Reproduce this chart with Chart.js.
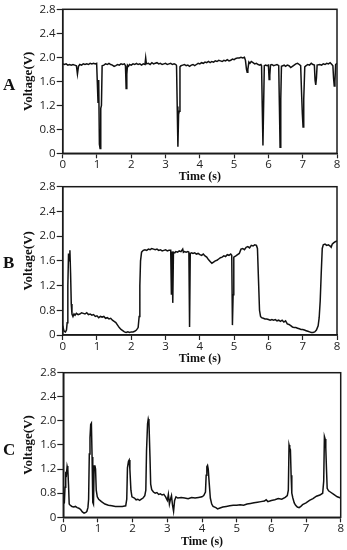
<!DOCTYPE html>
<html>
<head>
<meta charset="utf-8">
<script src="https://cdn.jsdelivr.net/npm/chart.js@4.4.1/dist/chart.umd.min.js"></script>
<style>
  html, body { margin: 0; padding: 0; background: #fff; }
  #wrap { position: relative; width: 347px; height: 550px; overflow: hidden; background: #fff; }
  canvas { position: absolute; left: 0; }
  .letter { position: absolute; left: 3px; font: bold 17px "Liberation Serif", "Times New Roman", serif; color: #111; line-height: 1; transform: translateY(-50%); }
</style>
</head>
<body>
<div id="wrap">
  <canvas id="cA" width="347" height="184" style="top:0px"></canvas>
  <canvas id="cB" width="347" height="190" style="top:176px"></canvas>
  <canvas id="cC" width="347" height="188" style="top:362px"></canvas>
  <div class="letter" style="top:84px">A</div>
  <div class="letter" style="top:262px">B</div>
  <div class="letter" style="top:449px">C</div>
</div>
<script>
// ---------------- DATA ----------------
const xTickValues = [0, 1, 2, 3, 4, 5, 6, 7, 8];
const xTickLabels = ['0', '1', '2', '3', '4', '5', '6', '7', '8'];
const yTickValues = [0.4, 0.8, 1.2, 1.6, 2.0, 2.4, 2.8];
const yTickLabels = ['0', '0.8', '1.2', '1.6', '2.0', '2.4', '2.8'];
const xTitle = 'Time (s)';
const yTitle = 'Voltage(V)';

const timeA = [0.00,0.05,0.10,0.15,0.20,0.25,0.30,0.35,0.40,0.43,0.46,0.50,0.55,0.60,0.65,0.70,0.75,0.80,0.85,0.90,0.95,0.99,1.01,1.03,1.05,1.07,1.09,1.11,1.13,1.15,1.20,1.25,1.30,1.35,1.40,1.45,1.50,1.55,1.60,1.65,1.70,1.75,1.80,1.83,1.84,1.85,1.87,1.89,1.92,1.95,2.00,2.05,2.10,2.15,2.20,2.25,2.30,2.35,2.40,2.42,2.44,2.50,2.55,2.60,2.65,2.70,2.75,2.80,2.85,2.90,2.95,3.00,3.05,3.10,3.15,3.20,3.25,3.30,3.32,3.34,3.36,3.38,3.40,3.42,3.45,3.50,3.55,3.60,3.65,3.70,3.75,3.80,3.85,3.90,3.95,4.00,4.05,4.10,4.15,4.20,4.25,4.30,4.35,4.40,4.45,4.50,4.55,4.60,4.65,4.70,4.75,4.80,4.85,4.90,4.95,5.00,5.05,5.10,5.15,5.20,5.25,5.30,5.33,5.36,5.38,5.40,5.43,5.46,5.50,5.55,5.60,5.65,5.70,5.75,5.78,5.80,5.82,5.84,5.86,5.88,5.92,5.96,6.00,6.02,6.04,6.06,6.10,6.15,6.20,6.25,6.30,6.32,6.34,6.36,6.38,6.42,6.46,6.50,6.55,6.60,6.65,6.70,6.75,6.80,6.85,6.90,6.94,6.97,6.99,7.01,7.03,7.06,7.10,7.15,7.20,7.25,7.30,7.34,7.36,7.38,7.40,7.42,7.50,7.55,7.60,7.65,7.70,7.75,7.80,7.85,7.88,7.90,7.92,7.94,7.96,8.00];
const voltA = [1.89,1.88,1.89,1.87,1.88,1.87,1.88,1.87,1.86,1.72,1.85,1.88,1.87,1.89,1.88,1.89,1.88,1.90,1.89,1.90,1.89,1.90,1.58,1.25,1.62,0.55,0.48,1.15,1.20,1.86,1.87,1.89,1.88,1.90,1.88,1.87,1.85,1.86,1.88,1.87,1.89,1.88,1.89,1.86,1.68,1.48,1.72,1.87,1.85,1.88,1.87,1.89,1.88,1.90,1.88,1.89,1.87,1.89,1.88,1.99,1.89,1.90,1.88,1.91,1.89,1.90,1.91,1.89,1.90,1.88,1.89,1.90,1.88,1.89,1.90,1.88,1.89,1.88,1.86,1.18,0.51,1.05,1.10,1.84,1.86,1.87,1.88,1.86,1.87,1.85,1.87,1.88,1.86,1.88,1.90,1.89,1.91,1.90,1.92,1.91,1.93,1.91,1.93,1.92,1.94,1.93,1.95,1.94,1.93,1.95,1.94,1.96,1.94,1.95,1.97,1.96,1.98,1.99,1.99,2.00,1.99,2.00,1.95,1.80,1.75,1.80,1.92,1.90,1.93,1.91,1.89,1.90,1.88,1.87,1.88,1.86,1.18,0.53,1.20,1.86,1.87,1.86,1.87,1.63,1.70,1.87,1.88,1.86,1.87,1.88,1.86,1.20,0.50,1.30,1.85,1.86,1.87,1.85,1.87,1.86,1.83,1.85,1.87,1.89,1.90,1.88,1.86,1.35,1.05,0.84,1.30,1.84,1.86,1.88,1.87,1.90,1.88,1.87,1.62,1.54,1.65,1.87,1.88,1.87,1.89,1.88,1.90,1.89,1.91,1.88,1.86,1.65,1.52,1.60,1.88,1.90];

const timeB = [0.00,0.02,0.04,0.08,0.11,0.13,0.15,0.17,0.19,0.21,0.23,0.25,0.27,0.30,0.33,0.36,0.40,0.45,0.50,0.55,0.60,0.65,0.70,0.75,0.80,0.85,0.90,0.95,1.00,1.05,1.10,1.15,1.20,1.25,1.30,1.35,1.40,1.45,1.50,1.55,1.60,1.65,1.70,1.75,1.80,1.85,1.90,1.95,2.00,2.05,2.10,2.15,2.20,2.23,2.25,2.27,2.30,2.35,2.40,2.45,2.50,2.55,2.60,2.65,2.70,2.75,2.80,2.85,2.90,2.95,3.00,3.05,3.10,3.15,3.17,3.19,3.21,3.23,3.27,3.30,3.35,3.40,3.45,3.50,3.52,3.55,3.60,3.65,3.68,3.70,3.72,3.76,3.80,3.85,3.90,3.95,4.00,4.05,4.10,4.15,4.20,4.25,4.30,4.35,4.40,4.45,4.50,4.55,4.60,4.65,4.70,4.75,4.80,4.85,4.90,4.93,4.95,4.97,4.99,5.05,5.10,5.15,5.20,5.25,5.30,5.35,5.40,5.45,5.50,5.55,5.60,5.65,5.68,5.71,5.74,5.77,5.80,5.85,5.90,5.95,6.00,6.05,6.10,6.15,6.20,6.25,6.30,6.35,6.40,6.45,6.50,6.55,6.60,6.65,6.70,6.75,6.80,6.85,6.90,6.95,7.00,7.05,7.10,7.15,7.20,7.25,7.30,7.35,7.40,7.45,7.48,7.51,7.54,7.57,7.60,7.65,7.70,7.75,7.80,7.83,7.86,7.90,7.95,8.00];
const voltB = [0.55,0.50,0.46,0.45,0.48,0.60,1.20,1.72,1.60,1.77,1.40,0.90,0.74,0.70,0.74,0.72,0.75,0.73,0.74,0.76,0.75,0.74,0.76,0.73,0.74,0.72,0.73,0.70,0.71,0.68,0.70,0.69,0.70,0.67,0.68,0.66,0.67,0.64,0.62,0.60,0.56,0.52,0.49,0.47,0.45,0.44,0.45,0.44,0.45,0.45,0.46,0.48,0.52,0.70,1.20,1.60,1.74,1.77,1.78,1.77,1.79,1.78,1.80,1.79,1.78,1.79,1.77,1.78,1.76,1.77,1.78,1.76,1.77,1.77,1.05,1.75,0.92,1.74,1.73,1.75,1.74,1.76,1.75,1.79,1.74,1.75,1.74,1.75,1.74,0.53,1.72,1.73,1.72,1.73,1.71,1.72,1.70,1.69,1.71,1.68,1.66,1.62,1.59,1.56,1.58,1.60,1.61,1.63,1.65,1.66,1.68,1.67,1.70,1.69,1.71,1.69,0.56,1.05,1.66,1.68,1.70,1.72,1.79,1.80,1.78,1.82,1.83,1.81,1.85,1.84,1.86,1.85,1.80,1.30,0.80,0.70,0.68,0.67,0.66,0.66,0.65,0.64,0.65,0.64,0.65,0.63,0.64,0.62,0.64,0.61,0.63,0.58,0.57,0.55,0.53,0.52,0.52,0.51,0.50,0.49,0.49,0.48,0.47,0.46,0.45,0.44,0.44,0.45,0.48,0.55,0.68,0.95,1.40,1.80,1.86,1.87,1.85,1.86,1.84,1.82,1.87,1.89,1.91,1.92];

const timeC = [0.00,0.03,0.05,0.07,0.09,0.11,0.13,0.15,0.17,0.20,0.25,0.30,0.35,0.40,0.45,0.50,0.55,0.60,0.65,0.68,0.71,0.73,0.75,0.77,0.79,0.81,0.83,0.85,0.87,0.89,0.91,0.93,0.95,0.98,1.02,1.10,1.20,1.30,1.40,1.50,1.60,1.70,1.80,1.83,1.85,1.88,1.90,1.92,1.95,1.98,2.05,2.10,2.15,2.20,2.25,2.30,2.35,2.38,2.40,2.43,2.45,2.47,2.50,2.52,2.55,2.60,2.65,2.70,2.75,2.80,2.85,2.90,2.95,3.00,3.03,3.06,3.09,3.12,3.15,3.18,3.21,3.25,3.30,3.40,3.50,3.60,3.70,3.80,3.90,4.00,4.05,4.10,4.12,4.14,4.16,4.18,4.21,4.24,4.28,4.32,4.40,4.45,4.50,4.60,4.70,4.80,4.90,5.00,5.10,5.20,5.30,5.40,5.50,5.60,5.70,5.80,5.85,5.90,6.00,6.10,6.20,6.30,6.40,6.46,6.49,6.51,6.53,6.55,6.57,6.59,6.62,6.66,6.70,6.75,6.80,6.85,6.90,7.00,7.10,7.20,7.30,7.40,7.48,7.51,7.53,7.55,7.57,7.59,7.61,7.65,7.70,7.80,7.90,8.00];
const voltC = [0.63,0.64,0.90,1.12,1.10,1.25,1.20,0.95,0.62,0.60,0.58,0.57,0.58,0.56,0.55,0.53,0.49,0.47,0.48,0.50,0.56,0.70,1.45,1.72,1.94,1.96,1.40,0.65,0.62,1.25,1.26,1.20,0.85,0.74,0.70,0.66,0.62,0.60,0.59,0.58,0.58,0.58,0.59,0.70,1.22,1.33,1.35,1.20,0.85,0.74,0.72,0.69,0.70,0.68,0.70,0.72,0.76,0.85,1.50,1.95,2.03,1.98,1.40,0.95,0.86,0.82,0.80,0.81,0.78,0.79,0.77,0.78,0.74,0.68,0.78,0.62,0.70,0.76,0.60,0.50,0.68,0.74,0.72,0.73,0.72,0.71,0.73,0.72,0.73,0.74,0.76,0.82,1.10,1.24,1.26,1.20,0.95,0.72,0.62,0.58,0.56,0.54,0.55,0.57,0.58,0.59,0.60,0.60,0.61,0.60,0.62,0.63,0.64,0.65,0.66,0.67,0.69,0.66,0.68,0.69,0.71,0.70,0.73,0.76,0.85,1.60,1.55,1.52,1.10,0.80,0.72,0.64,0.60,0.57,0.56,0.58,0.61,0.64,0.68,0.71,0.75,0.77,0.80,1.00,1.74,1.70,1.55,1.20,0.88,0.84,0.82,0.78,0.74,0.72];

// ---------------- DRAWING ----------------
const frame = {
  id: 'frame',
  afterDatasetsDraw(chart) {
    const a = chart.chartArea, ctx = chart.ctx;
    ctx.save();
    ctx.strokeStyle = '#1a1a1a';
    ctx.lineWidth = 1.5;
    ctx.strokeRect(a.left, a.top, a.right - a.left, a.bottom - a.top);
    ctx.restore();
  }
};

function makeChart(id, times, volts, L) {
  const tickFont = { family: '"Open Sans", "DejaVu Sans", sans-serif', size: 11.5 };
  const xTitleFont = { family: '"Liberation Serif", "Times New Roman", serif', size: 12, weight: 'bold' };
  const yTitleFont = { family: '"Liberation Serif", "Times New Roman", serif', size: 13, weight: 'bold' };
  return new Chart(document.getElementById(id), {
    type: 'line',
    data: {
      datasets: [{
        data: times.map((t, i) => ({ x: t, y: volts[i] })),
        borderColor: '#111',
        borderWidth: 1.5,
        pointRadius: 0,
        tension: 0,
        fill: false
      }]
    },
    options: {
      responsive: false,
      animation: false,
      events: [],
      layout: { padding: { top: L.top, right: L.right, left: 0, bottom: 0 } },
      plugins: { legend: { display: false }, tooltip: { enabled: false } },
      scales: {
        x: {
          type: 'linear', min: 0, max: 8,
          afterBuildTicks: s => { s.ticks = xTickValues.map(v => ({ value: v })); },
          afterFit: s => { s.height = L.xh; s.paddingLeft = 0; s.paddingRight = 0; },
          ticks: { font: tickFont, color: '#222', padding: 0, maxRotation: 0, autoSkip: false,
                   callback: (v, i) => xTickLabels[i] },
          grid: { drawOnChartArea: false, drawTicks: true, tickLength: 5, color: '#222', tickWidth: 1.2 },
          border: { display: true, color: '#1a1a1a', width: 1.5 },
          title: { display: true, text: xTitle, font: xTitleFont, color: '#111', padding: { top: 0, bottom: L.xtp } }
        },
        y: {
          type: 'linear', min: 0.4, max: 2.8,
          afterBuildTicks: s => { s.ticks = yTickValues.map(v => ({ value: v })); },
          afterFit: s => { s.width = L.yw; s.paddingTop = 0; s.paddingBottom = 0; },
          ticks: { font: tickFont, color: '#222', padding: 1, autoSkip: false,
                   callback: (v, i) => yTickLabels[i] },
          grid: { drawOnChartArea: false, drawTicks: true, tickLength: 6, color: '#222', tickWidth: 1.2 },
          border: { display: true, color: '#1a1a1a', width: 1.5 },
          title: { display: true, text: yTitle, font: yTitleFont, color: '#111', padding: { top: 21, bottom: 0 } }
        }
      }
    },
    plugins: [frame]
  });
}

makeChart('cA', timeA, voltA, { top: 9.3,  right: 10,  yw: 62.7, xh: 30.7, xtp: 0 });
makeChart('cB', timeB, voltB, { top: 10.7, right: 10,  yw: 62.7, xh: 31,   xtp: 0 });
makeChart('cC', timeC, voltC, { top: 10.7, right: 6.3, yw: 63.3, xh: 32.7, xtp: 0.8 });
</script>
</body>
</html>
